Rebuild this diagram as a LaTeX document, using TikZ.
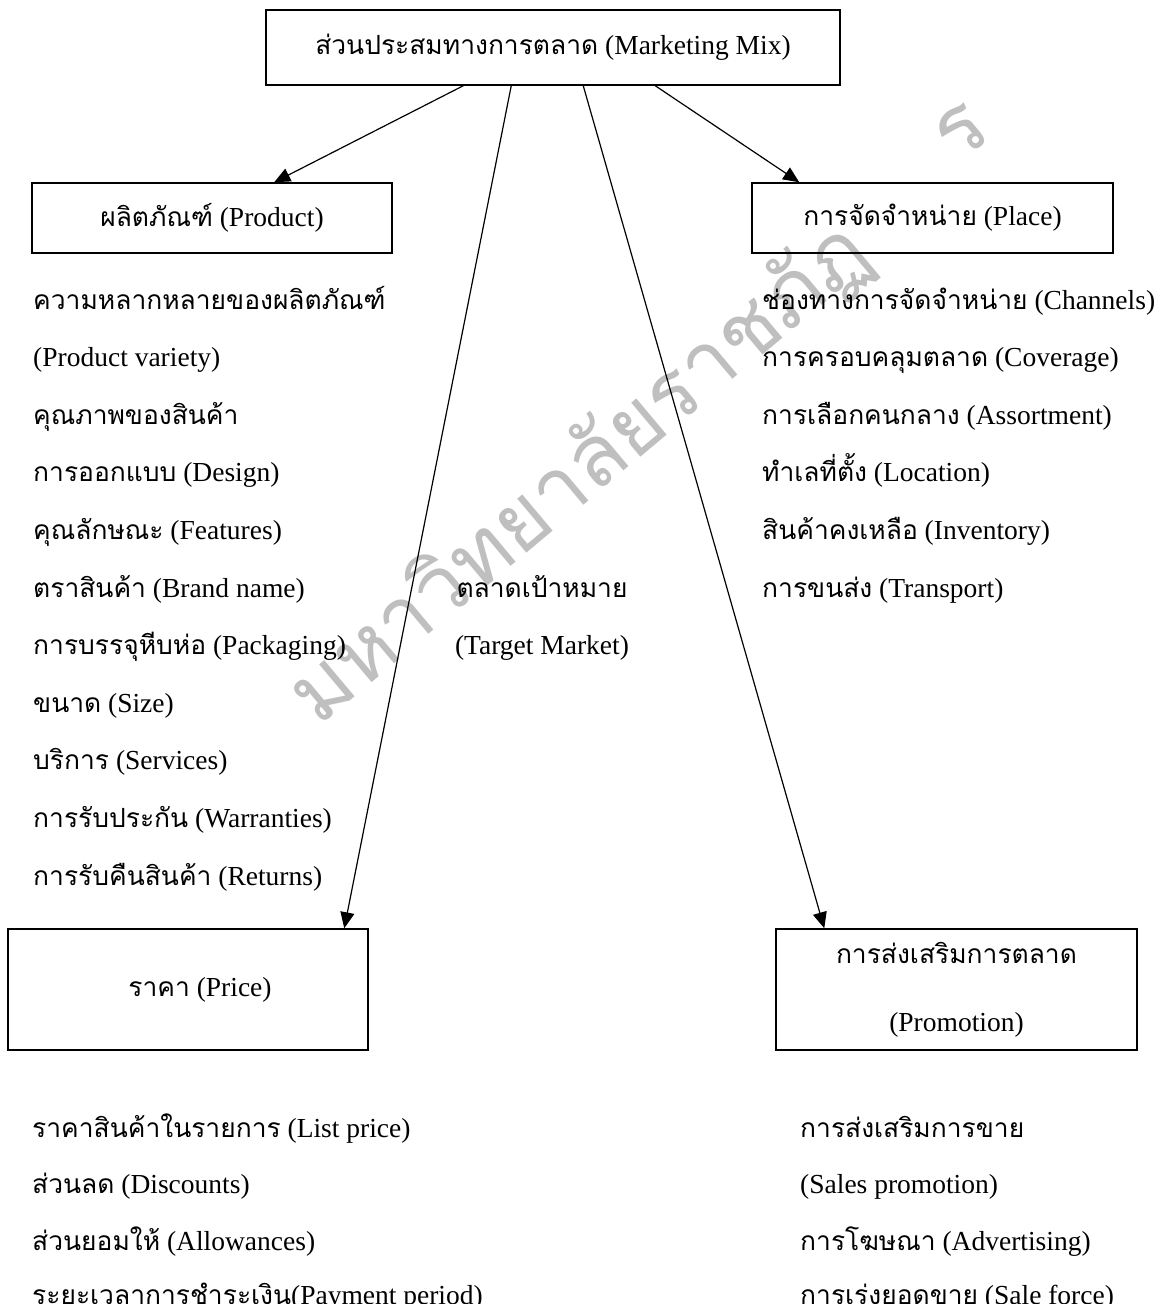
\documentclass[tikz,border=0pt]{standalone}
\usepackage{fontspec}
\setmainfont{Liberation Serif}
\newfontfamily\thaifont[Script=Thai,Scale=0.96]{Loma}
\newfontfamily\wmfont[Script=Thai]{Loma}
\usetikzlibrary{arrows.meta}
\newcommand\T[1]{{\thaifont #1}}
\begin{document}
\begin{tikzpicture}[x=1pt,y=-1pt,
  every node/.style={font=\fontsize{27.5}{57}\selectfont, inner sep=0pt},
  box/.style={draw, line width=1.5pt, align=center},
  item/.style={anchor=base west},
  arr/.style={-{Triangle[length=16pt,width=14pt]}, line width=1.2pt},
  wmark/.style={text=black!25, rotate=40, font=\wmfont\fontsize{85}{85}\selectfont}]
\useasboundingbox (0,0) rectangle (1158,1304);
\fill[white] (0,0) rectangle (1158,1304);
% watermark
\node[wmark, anchor=base west] (wm) at (318,728) {มหาวิทยาลัยราชภัฏ};
\node[wmark] (wm2) at (962,132) {ร};
% boxes
\node[box, minimum width=574pt, minimum height=75pt] (mm) at (553,47.5) {\T{ส่วนประสมทางการตลาด} (Marketing Mix)};
\node[box, minimum width=360pt, minimum height=70pt] (prod) at (212,218) {\T{ผลิตภัณฑ์} (Product)};
\node[box, minimum width=361pt, minimum height=70pt] (place) at (932.5,218) {\T{การจัดจำหน่าย} (Place)};
\node[box, minimum width=360pt, minimum height=121pt] (price) at (188,989.5) {\hspace*{24pt}\T{ราคา} (Price)};
\node[box, minimum width=361pt, minimum height=121pt] (promo) at (956.5,989.5) {\T{การส่งเสริมการตลาด}\\[11pt](Promotion)};
% arrows
\draw[arr] ([xshift=198pt]mm.south west) -- ([xshift=243pt]prod.north west);
\draw[arr] ([xshift=246pt]mm.south west) -- ([xshift=337pt]price.north west);
\draw[arr] ([xshift=318pt]mm.south west) -- ([xshift=49pt]promo.north west);
\draw[arr] ([xshift=390pt]mm.south west) -- ([xshift=48pt]place.north west);
% product list
\node[item] (p1) at (33,309) {\T{ความหลากหลายของผลิตภัณฑ์}};
\node[item] (p2) at (33,366.6) {(Product variety)};
\node[item] (p3) at (33,424.2) {\T{คุณภาพของสินค้า}};
\node[item] (p4) at (33,481.8) {\T{การออกแบบ} (Design)};
\node[item] (p5) at (33,539.4) {\T{คุณลักษณะ} (Features)};
\node[item] (p6) at (33,597) {\T{ตราสินค้า} (Brand name)};
\node[item] (p7) at (33,654.6) {\T{การบรรจุหีบห่อ} (Packaging)};
\node[item] (p8) at (33,712.2) {\T{ขนาด} (Size)};
\node[item] (p9) at (33,769.8) {\T{บริการ} (Services)};
\node[item] (p10) at (33,827.4) {\T{การรับประกัน} (Warranties)};
\node[item] (p11) at (33,885) {\T{การรับคืนสินค้า} (Returns)};
% place list
\node[item] (l1) at (762,309) {\T{ช่องทางการจัดจำหน่าย} (Channels)};
\node[item] (l2) at (762,366.6) {\T{การครอบคลุมตลาด} (Coverage)};
\node[item] (l3) at (762,424.2) {\T{การเลือกคนกลาง} (Assortment)};
\node[item] (l4) at (762,481.8) {\T{ทำเลที่ตั้ง} (Location)};
\node[item] (l5) at (762,539.4) {\T{สินค้าคงเหลือ} (Inventory)};
\node[item] (l6) at (762,597) {\T{การขนส่ง} (Transport)};
% target market
\node[anchor=base] (t1) at (542,597) {\T{ตลาดเป้าหมาย}};
\node[anchor=base] (t2) at (542,654.6) {(Target Market)};
% price list
\node[item] (r1) at (32,1137) {\T{ราคาสินค้าในรายการ} (List price)};
\node[item] (r2) at (32,1193.5) {\T{ส่วนลด} (Discounts)};
\node[item] (r3) at (32,1250) {\T{ส่วนยอมให้} (Allowances)};
\node[item] (r4) at (32,1304) {\T{ระยะเวลาการชำระเงิน}(Payment period)};
% promotion list
\node[item] (m1) at (800,1137) {\T{การส่งเสริมการขาย}};
\node[item] (m2) at (800,1193.5) {(Sales promotion)};
\node[item] (m3) at (800,1250) {\T{การโฆษณา} (Advertising)};
\node[item] (m4) at (800,1304) {\T{การเร่งยอดขาย} (Sale force)};
\end{tikzpicture}
\end{document}
